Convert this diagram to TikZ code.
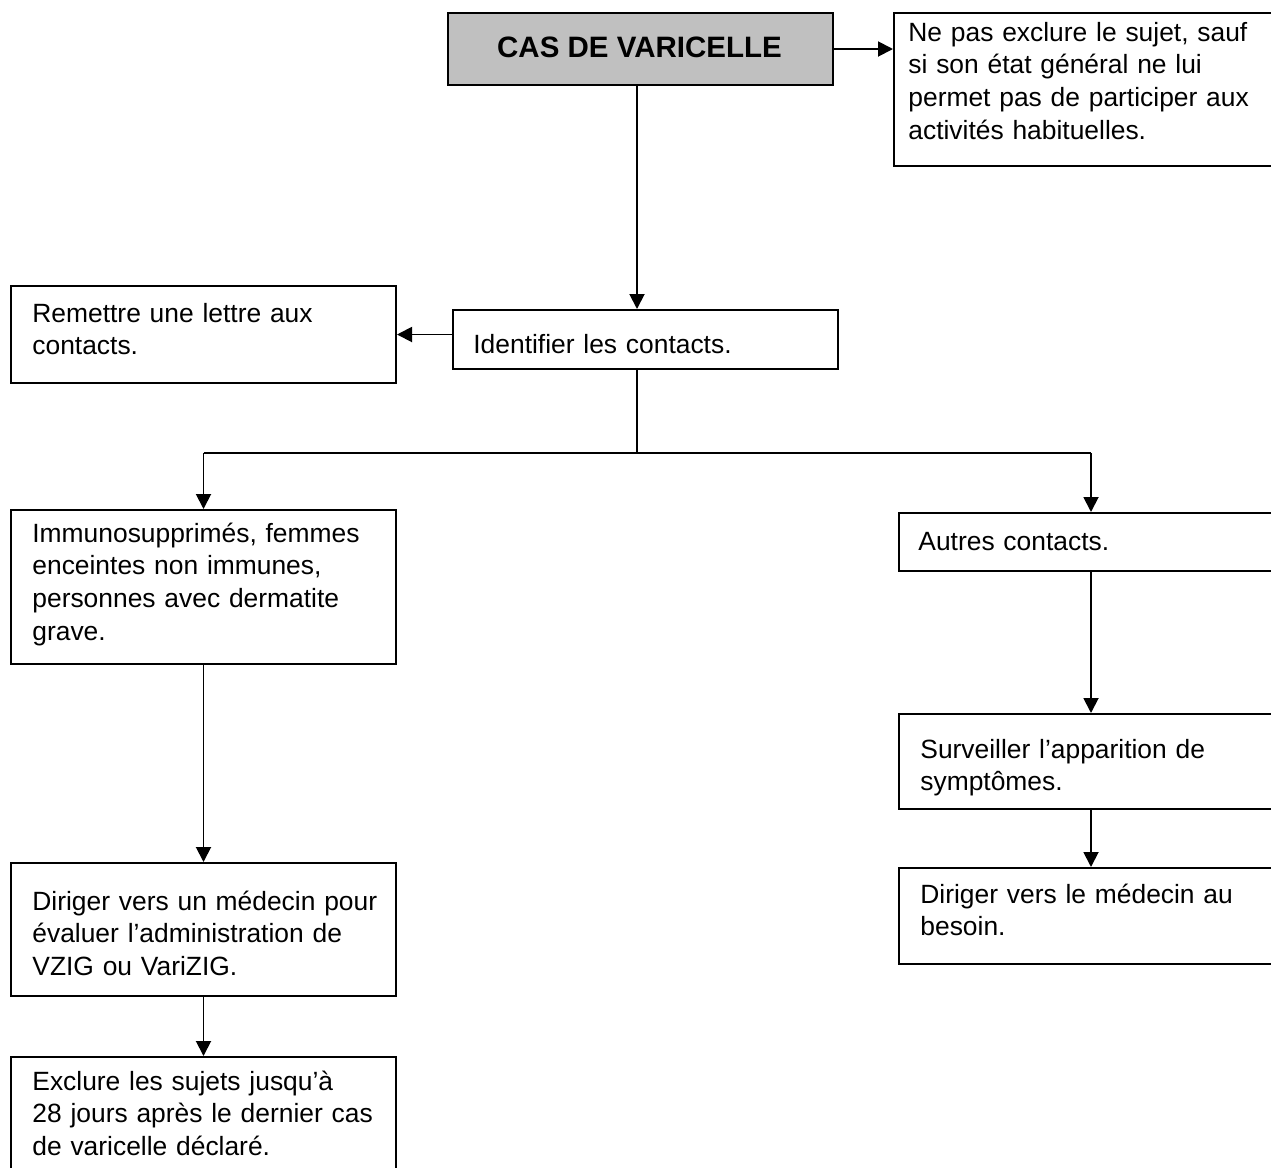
\documentclass[tikz,border=0pt]{standalone}
\usepackage{fontspec}
\setmainfont{Liberation Sans}
\usetikzlibrary{arrows.meta}
\definecolor{boxgray}{RGB}{192,192,192}
\begin{document}
\begin{tikzpicture}[x=0.5pt,y=-0.5pt,
  box/.style={draw=black,line width=1pt,rectangle,anchor=north west,inner sep=0pt},
  txt/.style={anchor=base west,inner sep=0pt,text width=190pt,align=left,
    font=\fontsize{13.2pt}{16.4pt}\selectfont},
  arr/.style={line width=0.95pt,-{Triangle[length=7.5pt,width=7.5pt]}},
  ln/.style={line width=0.95pt}]
\useasboundingbox (0,0) rectangle (1271,1168);
% boxes
\node[box,fill=boxgray,minimum width=192.5pt,minimum height=36pt] (cas) at (447,12) {};
\node[box,minimum width=200pt,minimum height=76.5pt] (note) at (893,12) {};
\node[box,minimum width=192.5pt,minimum height=48.5pt] (letter) at (10,285) {};
\node[box,minimum width=192.5pt,minimum height=29.5pt] (ident) at (452,309) {};
\node[box,minimum width=192.5pt,minimum height=77pt] (immuno) at (10,509) {};
\node[box,minimum width=200pt,minimum height=29pt] (autres) at (898,512) {};
\node[box,minimum width=200pt,minimum height=47.5pt] (surv) at (898,713) {};
\node[box,minimum width=200pt,minimum height=48pt] (dirR) at (898,867) {};
\node[box,minimum width=192.5pt,minimum height=66.5pt] (dirL) at (10,862) {};
\node[box,minimum width=192.5pt,minimum height=65pt] (excl) at (10,1056) {};
% texts
\node[anchor=base,inner sep=0pt,font=\fontsize{14.75pt}{16.4pt}\selectfont\bfseries] (cas-t) at (639.5,57) {CAS DE VARICELLE};
\node[txt] (note-t) at (908,41) {Ne pas exclure le sujet, sauf\\si son état général ne lui\\permet pas de participer aux\\activités habituelles.};
\node[txt] (letter-t) at (32,322) {Remettre une lettre aux\\contacts.};
\node[txt] (ident-t) at (473,353) {Identifier les contacts.};
\node[txt] (immuno-t) at (32,542) {Immunosupprimés, femmes\\enceintes non immunes,\\personnes avec dermatite\\grave.};
\node[txt] (autres-t) at (918,550) {Autres contacts.};
\node[txt] (surv-t) at (920,758) {Surveiller l’apparition de\\symptômes.};
\node[txt] (dirR-t) at (920,903) {Diriger vers le médecin au\\besoin.};
\node[txt] (dirL-t) at (32,910) {Diriger vers un médecin pour\\évaluer l’administration de\\VZIG ou VariZIG.};
\node[txt] (excl-t) at (32,1090) {Exclure les sujets jusqu’à\\28 jours après le dernier cas\\de varicelle déclaré.};
% connectors
\coordinate (spine) at (637,453);
\coordinate (rb) at (1091,453);
\draw[arr] (cas.east) -- (cas.east -| note.west);
\draw[arr] (cas.south -| spine) -- (ident.north -| spine);
\draw[arr] (ident.west |- letter.east) -- (letter.east);
\draw[ln] (ident.south -| spine) -- (spine);
\draw[ln] (immuno.north |- spine) -- (rb);
\draw[arr] (immuno.north |- spine) -- (immuno.north);
\draw[arr] (rb) -- (rb |- autres.north);
\draw[arr] (immuno.south) -- (dirL.north);
\draw[arr] (dirL.south) -- (excl.north);
\draw[arr] (autres.south -| rb) -- (surv.north -| rb);
\draw[arr] (surv.south -| rb) -- (dirR.north -| rb);
\end{tikzpicture}
\end{document}
